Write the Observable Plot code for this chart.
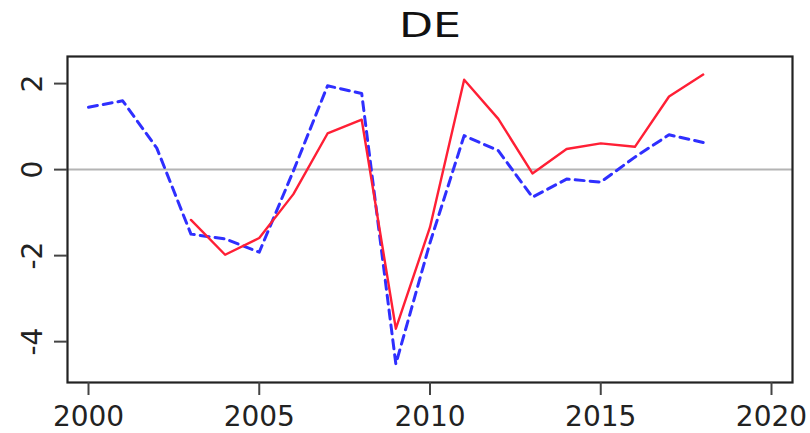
<!DOCTYPE html>
<html>
<head>
<meta charset="utf-8">
<script src="https://cdn.jsdelivr.net/npm/d3@7"></script>
<script src="https://cdn.jsdelivr.net/npm/@observablehq/plot@0.6"></script>
<style>
  html, body { margin: 0; padding: 0; background: #fff; }
  #title { width: 810px; height: 46px; font-family: "DejaVu Sans", sans-serif; position: relative;
           font-size: 34px; line-height: 46px; box-sizing: border-box; color: #111; }
  #title span { position: absolute; left: 430px; top: 2px; transform: translateX(-50%) scaleX(1.3); white-space: nowrap; }
</style>
</head>
<body>
<div id="title"><span>DE</span></div>
<div id="chart"></div>
<script>
const title = "DE";
const redYears = [2003, 2004, 2005, 2006, 2007, 2008, 2009, 2010, 2011, 2012, 2013, 2014, 2015, 2016, 2017, 2018];
const redValues = [-1.17, -1.98, -1.59, -0.57, 0.84, 1.16, -3.70, -1.34, 2.09, 1.18, -0.09, 0.48, 0.61, 0.53, 1.70, 2.21];
const blueYears = [2000, 2001, 2002, 2003, 2004, 2005, 2006, 2007, 2008, 2009, 2010, 2011, 2012, 2013, 2014, 2015, 2016, 2017, 2018];
const blueValues = [1.45, 1.60, 0.50, -1.50, -1.61, -1.92, -0.03, 1.95, 1.77, -4.52, -1.70, 0.79, 0.44, -0.64, -0.22, -0.29, 0.29, 0.81, 0.63];
const xTicks = [2000, 2005, 2010, 2015, 2020];
const yTicks = [-4, -2, 0, 2];

const red = redYears.map((x, i) => ({x, y: redValues[i]}));
const blue = blueYears.map((x, i) => ({x, y: blueValues[i]}));

const font = "DejaVu Sans, sans-serif";
const chart = Plot.plot({
  width: 810,
  height: 387,
  marginTop: 10,
  marginBottom: 51,
  marginLeft: 67,
  marginRight: 18,
  style: {fontFamily: font, background: "white"},
  x: {domain: [1999.385, 2020.615]},
  y: {domain: [-4.95, 2.63]},
  marks: [
    Plot.ruleY([0], {stroke: "#b4b4b4", strokeWidth: 2}),
    Plot.line(blue, {x: "x", y: "y", stroke: "#2f2fff", strokeWidth: 3, strokeDasharray: "9,6"}),
    Plot.line(red, {x: "x", y: "y", stroke: "#ff1f35", strokeWidth: 2.4}),
    Plot.frame({stroke: "#222", strokeWidth: 2.2}),
    Plot.axisX({ticks: xTicks, tickSize: 13, tickPadding: 11, tickFormat: d => String(d),
      fontSize: 28, stroke: "#444", strokeWidth: 2, fill: "#222", label: null}),
    Plot.axisY({ticks: yTicks, tickSize: 13, tickFormat: () => "", stroke: "#444", strokeWidth: 2, label: null}),
    Plot.text(yTicks, {y: d => d, text: d => String(d), frameAnchor: "left", dx: -26, rotate: -90,
      textAnchor: "middle", lineAnchor: "bottom", fontSize: 28, fill: "#222"})
  ]
});
document.getElementById("chart").appendChild(chart);
</script>
</body>
</html>
